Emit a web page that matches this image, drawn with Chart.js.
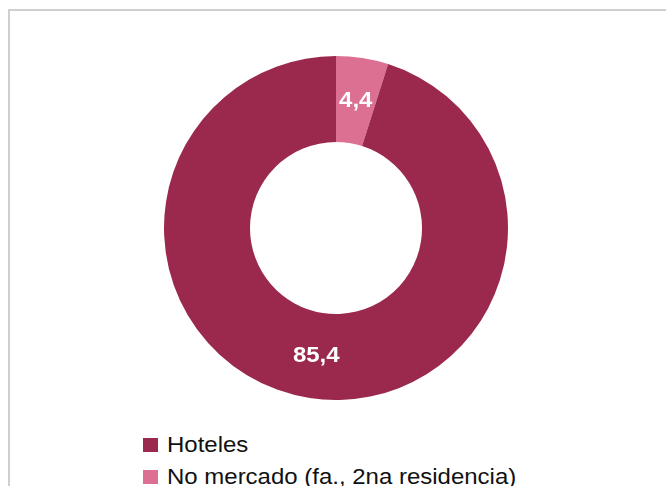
<!DOCTYPE html>
<html>
<head>
<meta charset="utf-8">
<script src="https://cdn.jsdelivr.net/npm/chart.js@4"></script>
<style>
  html, body { margin: 0; padding: 0; background: #fff; }
  body { width: 666px; height: 486px; position: relative; overflow: hidden; font-family: "Liberation Sans", Arial, sans-serif; }
  #frame { position: absolute; left: 8px; top: 9px; width: 700px; height: 520px; border-left: 2px solid #cfcfcf; border-top: 2px solid #cfcfcf; }
  #wrap { position: absolute; left: 164px; top: 56px; width: 344px; height: 344px; }
  #legend { position: absolute; left: 143px; top: 429px; font-size: 22px; color: #111; }
  .item { position: relative; height: 32px; line-height: 31px; white-space: nowrap; }
  .box { position: absolute; left: 0; top: 9px; width: 15px; height: 14px; }
  .txt { position: absolute; left: 24px; top: 0; transform: scaleX(1.09); transform-origin: 0 0; }
</style>
</head>
<body>
<div id="frame"></div>
<div id="wrap"><canvas id="donut"></canvas></div>
<div id="legend"></div>
<script>
'use strict';

// --- Datos ---
const CATEGORIES = ['No mercado (fa., 2na residencia)', 'Hoteles'];
const VALUES = [4.4, 85.4];
const COLORS = ['#dc7093', '#9b284d'];
const LEGEND_ORDER = [1, 0];

// etiquetas de valor en blanco, formato con coma
const valueLabels = {
  id: 'valueLabels',
  afterDatasetsDraw(chart) {
    const ctx = chart.ctx;
    const meta = chart.getDatasetMeta(0);
    meta.data.forEach((arc, i) => {
      const p = arc.tooltipPosition();
      ctx.save();
      ctx.translate(p.x, p.y);
      ctx.scale(1.09, 1);
      ctx.fillStyle = '#ffffff';
      ctx.font = 'bold 22px "Liberation Sans", Arial, sans-serif';
      ctx.textAlign = 'center';
      ctx.textBaseline = 'middle';
      ctx.fillText(VALUES[i].toFixed(1).replace('.', ','), 0, 0);
      ctx.restore();
    });
  },
};

new Chart(document.getElementById('donut').getContext('2d'), {
  type: 'doughnut',
  data: {
    labels: CATEGORIES,
    datasets: [{
      data: VALUES,
      backgroundColor: COLORS,
      borderWidth: 0,
      hoverOffset: 0,
    }],
  },
  options: {
    responsive: true,
    maintainAspectRatio: false,
    animation: false,
    cutout: '50%',
    layout: { padding: 0 },
    plugins: { legend: { display: false }, tooltip: { enabled: false } },
  },
  plugins: [valueLabels],
});

// --- Leyenda ---
const legend = document.getElementById('legend');
LEGEND_ORDER.forEach(i => {
  const row = document.createElement('div');
  row.className = 'item';
  const box = document.createElement('span');
  box.className = 'box';
  box.style.background = COLORS[i];
  const txt = document.createElement('span');
  txt.className = 'txt';
  txt.textContent = CATEGORIES[i];
  row.appendChild(box);
  row.appendChild(txt);
  legend.appendChild(row);
});
</script>
</body>
</html>
